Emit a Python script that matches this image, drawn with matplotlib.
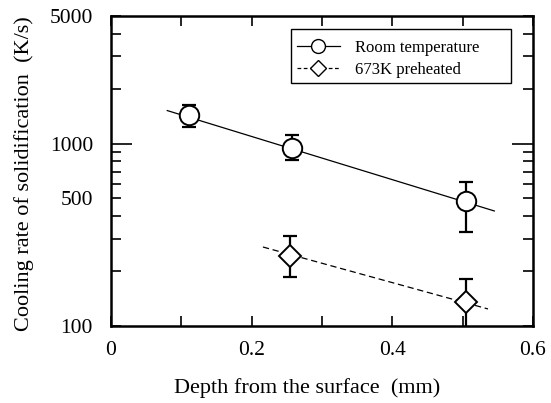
import numpy as np
from matplotlib import pyplot as plt
from matplotlib.ticker import FixedLocator, NullFormatter
from matplotlib.patches import Rectangle

plt.rcParams['font.family'] = ['Liberation Serif', 'DejaVu Serif']

# room temperature
rt_x = [0.111, 0.257, 0.505]
rt_y = [1430, 945, 484]
rt_lo = [1230, 813, 327]
rt_hi = [1625, 1114, 615]
rt_fit_x = [0.08, 0.545]
rt_fit_y = [1516, 427]

# 673K preheated
ph_x = [0.254, 0.505]
ph_y = [242, 135]
ph_lo = [185, 90]
ph_hi = [311, 181]
ph_fit_x = [0.216, 0.536]
ph_fit_y = [271, 124]

W, H = 551, 403
fig = plt.figure(figsize=(W/100, H/100), dpi=100, facecolor='#ffffff')
ax = fig.add_axes([111/W, 1-326/H, (533-111)/W, (326-16)/H])

ax.plot(rt_fit_x, rt_fit_y, color='k', lw=0.9)
ax.plot(ph_fit_x, ph_fit_y, color='k', lw=0.9, ls=(0, (5, 3)))

rt_err = [np.array(rt_y) - np.array(rt_lo), np.array(rt_hi) - np.array(rt_y)]
ph_err = [np.array(ph_y) - np.array(ph_lo), np.array(ph_hi) - np.array(ph_y)]
ax.errorbar(rt_x, rt_y, yerr=rt_err, fmt='none', ecolor='k', elinewidth=1.6,
            capsize=5, capthick=1.6)
ax.errorbar(ph_x, ph_y, yerr=ph_err, fmt='none', ecolor='k', elinewidth=1.6,
            capsize=5, capthick=1.6)
ax.plot(rt_x, rt_y, 'o', ms=14, mfc='white', mec='k', mew=1.4, zorder=5)
ax.plot(ph_x, ph_y, 'D', ms=11, mfc='white', mec='k', mew=1.4, zorder=5)

# legend handles
ax.plot([], [], '-', marker='o', color='k', lw=0.9, ms=10, mfc='white',
        label='Room temperature')
ax.plot([], [], ls=(0, (3, 2)), marker='D', color='k', lw=0.9, ms=8, mfc='white',
        label='673K preheated')
handles, labels = ax.get_legend_handles_labels()
leg = ax.legend(handles[-2:], labels[-2:], loc='upper left',
                bbox_to_anchor=((279-111)/422, 1-(22-16)/310), fontsize=12,
                frameon=False, handlelength=2.6, borderpad=0.55,
                labelspacing=0.4, handletextpad=0.9)
# legend frame
ax.add_patch(Rectangle(((291-111)/422, 1-(83-16)/310), (511-291)/422, 54/310,
                       transform=ax.transAxes, fill=False, ec='k', lw=1.0,
                       zorder=6))

ax.set_yscale('log')
ax.set_xlim(0, 0.6)
ax.set_ylim(100, 5000)

ax.xaxis.set_major_locator(FixedLocator([0, 0.2, 0.4, 0.6]))
ax.xaxis.set_minor_locator(FixedLocator([0.1, 0.3, 0.5]))
ax.set_xticklabels(['0', '0.2', '0.4', '0.6'])
ax.yaxis.set_major_locator(FixedLocator([100, 500, 1000, 5000]))
ax.yaxis.set_minor_locator(FixedLocator([200, 300, 400, 600, 700, 800, 900,
                                         2000, 3000, 4000]))
ax.yaxis.set_minor_formatter(NullFormatter())
ax.set_yticklabels(['100', '500', '1000', '5000'])

ax.tick_params(which='both', direction='in', top=True, right=True,
               labelsize=15.5, width=1.2, color='k')
ax.tick_params(axis='x', which='both', length=7, pad=11)
ax.tick_params(axis='y', which='major', length=7, pad=13)
ax.tick_params(axis='y', which='minor', length=7)
for t in ax.yaxis.get_major_ticks():
    if t.get_loc() == 1000:
        t.tick1line.set_markersize(15)
        t.tick2line.set_markersize(15)

for s in ax.spines.values():
    s.set_linewidth(1.8)

ax.set_xlabel('Depth from the surface  (mm)', fontsize=16)
ax.set_ylabel('Cooling rate of solidification  (K/s)', fontsize=16)
ax.xaxis.set_label_coords((307-111)/422, -(378-326)/310)
ax.yaxis.set_label_coords((34-111)/422, 0.49)

fig.savefig('out.png', dpi=100)
